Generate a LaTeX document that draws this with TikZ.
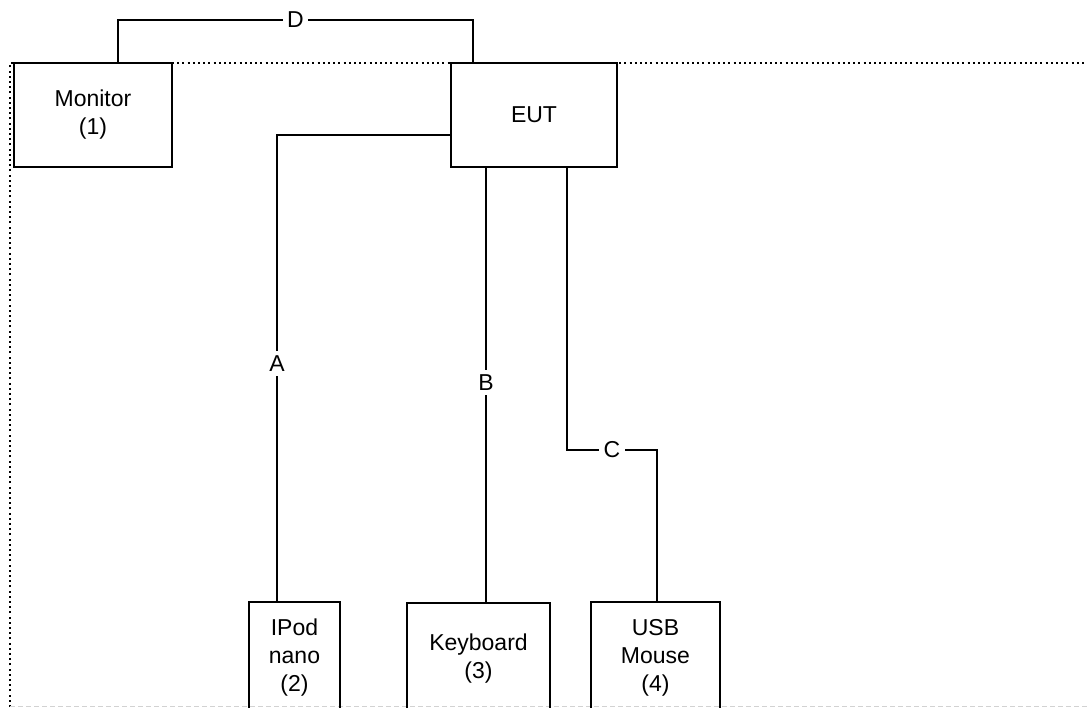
\documentclass[tikz,border=0pt]{standalone}
\usepackage{fontspec}
\setmainfont{Liberation Sans}
\tikzset{
    unit/.style={draw,line width=2.2pt,align=center,inner sep=0pt,font=\fontsize{23}{28}\selectfont},
    cable/.style={line width=2.2pt},
    cablename/.style={fill=white,inner sep=4.5pt,font=\fontsize{23}{23}\selectfont}
}
\begin{document}
\begin{tikzpicture}[x=1pt,y=-1pt]
    \clip (0,0) rectangle (1087,707);
    \fill[white] (0,0) rectangle (1087,707);
    % test area border
    \draw[line width=2pt,dash pattern=on 2pt off 3.2pt] (10,707) -- (10,63) -- (1087,63);
    \draw[gray!35,line width=1pt,dash pattern=on 5pt off 3pt] (10,706) -- (1087,706);
    % units
    \node[unit,minimum width=158pt,minimum height=104pt] (monitor) at (93,115) {Monitor\\(1)};
    \node[unit,minimum width=166pt,minimum height=104pt] (eut) at (534,115) {EUT};
    \node[unit,minimum width=91pt,minimum height=112pt] (ipod) at (294.5,658) {IPod\\nano\\(2)};
    \node[unit,minimum width=143pt,minimum height=112pt] (keyboard) at (478.5,659) {Keyboard\\(3)};
    \node[unit,minimum width=129pt,minimum height=112pt] (usb) at (655.5,658) {USB\\Mouse\\(4)};
    % cables
    \coordinate (dleft) at (118,20);
    \coordinate (dright) at (473,20);
    \draw[cable] (monitor.north-|dleft) -- (dleft) -- (dright)
        node[cablename,pos=.5] (D) {D} -- (eut.north-|dright); % D
    \coordinate (abend) at (277,135);
    \draw[cable] (eut.west|-abend) -- (abend) -- (abend|-ipod.north)
        node[cablename,pos=.49] (A) {A}; % A
    \coordinate (bdown) at (486,0);
    \draw[cable] (eut.south-|bdown) -- (bdown|-keyboard.north)
        node[cablename,pos=.495] (B) {B}; % B
    \coordinate (cleft) at (567,450);
    \coordinate (cright) at (657,450);
    \draw[cable] (eut.south-|cleft) -- (cleft) -- (cright)
        node[cablename,pos=.5] (C) {C} -- (cright|-usb.north); % C
\end{tikzpicture}
\end{document}
